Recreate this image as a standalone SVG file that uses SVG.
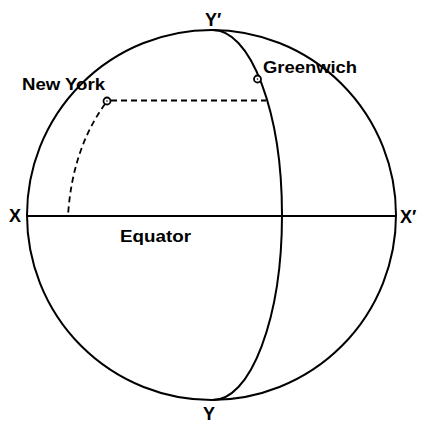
<svg xmlns="http://www.w3.org/2000/svg" width="421" height="423" viewBox="0 0 421 423">
<style>
.ln{fill:none;stroke:#000;stroke-width:2}
.dash{fill:none;stroke:#000;stroke-width:1.8;stroke-dasharray:6 4}
.lbl{font-family:"Liberation Sans",Arial,sans-serif;font-size:16px;font-weight:bold;fill:#000}
.big{font-size:18px}
.pt{fill:#fff;stroke:#000;stroke-width:1.8}
</style>
<rect width="421" height="423" fill="#fff"/>
<g id="connectors">
<ellipse class="ln" cx="211.5" cy="215" rx="184.5" ry="185"/>
<path class="ln" d="M213,30 A69,185 0 0 1 213,400"/>
<line class="ln" x1="27" y1="216" x2="396" y2="216" stroke-width="2.4"/>
<line class="dash" x1="111" y1="100.5" x2="266" y2="100.5"/>
<path class="dash" d="M105,104 Q72,150 68,216"/>
</g>
<g id="newyork">
<circle class="pt" cx="107" cy="101" r="3.5"/>
<circle cx="107" cy="101" r="0.8"/>
<text class="lbl" x="22" y="90" textLength="83" lengthAdjust="spacingAndGlyphs">New York</text>
</g>
<g id="greenwich">
<circle class="pt" cx="257.5" cy="79" r="3.5"/>
<circle cx="257.5" cy="79" r="0.8"/>
<text class="lbl" x="263" y="73" textLength="94" lengthAdjust="spacingAndGlyphs">Greenwich</text>
</g>
<g id="yprime"><text class="lbl big" x="205" y="26">Y′</text></g>
<g id="y"><text class="lbl big" x="203" y="420">Y</text></g>
<g id="x"><text class="lbl big" x="9" y="222">X</text></g>
<g id="xprime"><text class="lbl big" x="400" y="223">X′</text></g>
<g id="equator"><text class="lbl" x="120" y="242" textLength="71" lengthAdjust="spacingAndGlyphs">Equator</text></g>
</svg>
